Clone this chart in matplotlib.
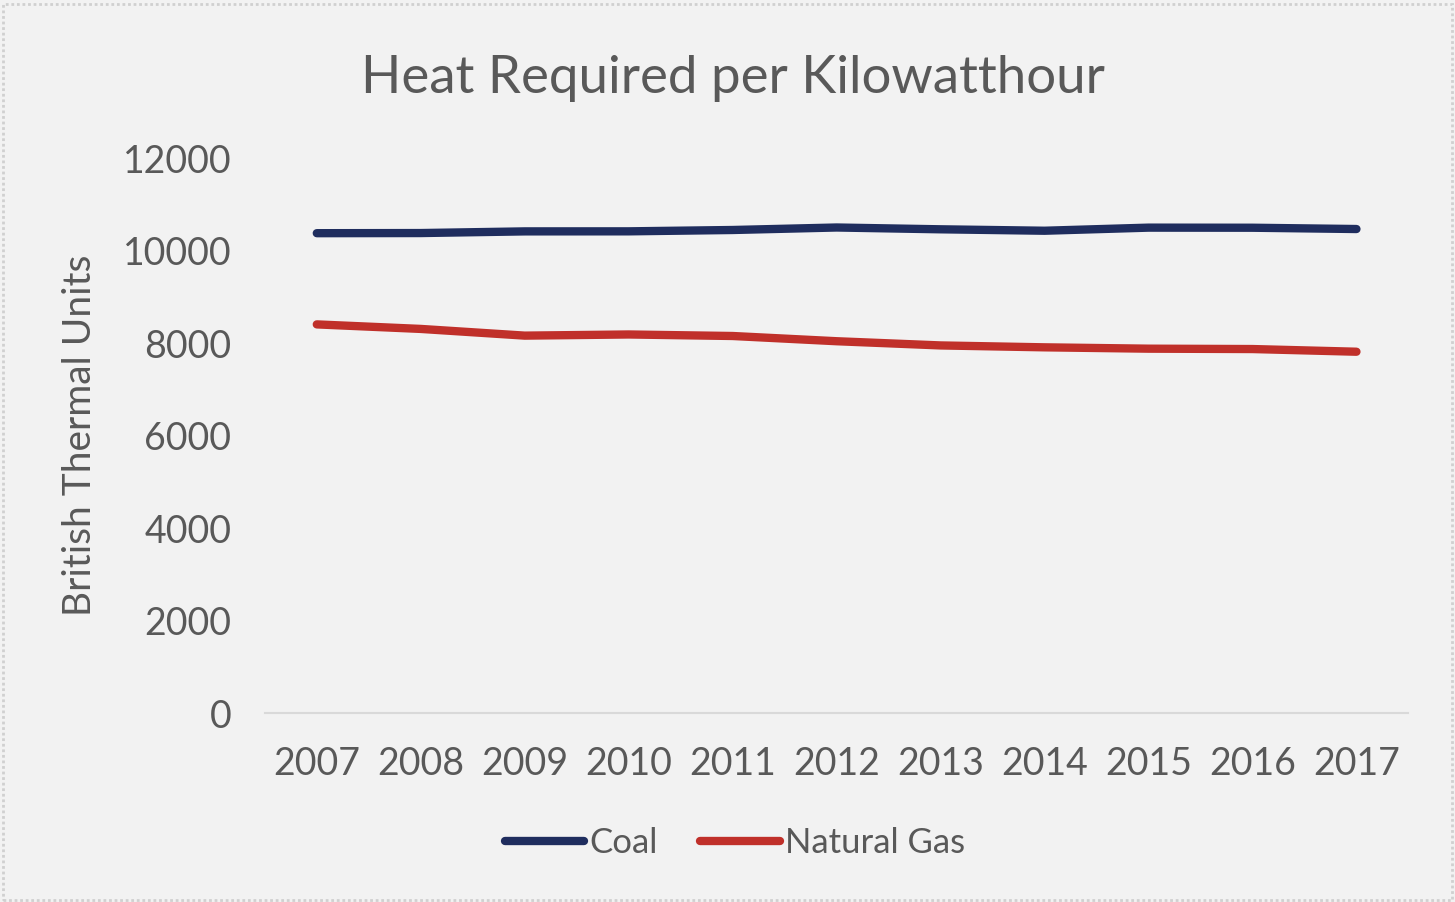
import matplotlib.pyplot as plt
from matplotlib.patches import Rectangle

years = ["2007", "2008", "2009", "2010", "2011", "2012", "2013", "2014", "2015", "2016", "2017"]
coal = [10375, 10378, 10414, 10415, 10444, 10498, 10459, 10428, 10495, 10493, 10465]
natural_gas = [8403, 8305, 8160, 8185, 8152, 8039, 7948, 7907, 7878, 7870, 7812]
yticks = [0, 2000, 4000, 6000, 8000, 10000, 12000]

plt.rcParams['font.family'] = ['Lato', 'DejaVu Sans']
txt = "#595959"
bg = "#f2f2f2"

fig = plt.figure(figsize=(14.55, 9.02), dpi=100, facecolor=bg)
fig.patches.append(Rectangle((0.002, 0.002), 0.996, 0.994, transform=fig.transFigure,
                             fill=False, edgecolor="#d0d0d0", lw=2, ls=(0, (1, 1))))
ax = fig.add_axes([0.182, 0.2095, 0.786, 0.6153], facecolor=bg)

x = range(len(years))
ax.plot(x, coal, color="#1f2d5e", lw=6, solid_capstyle="round", label="Coal")
ax.plot(x, natural_gas, color="#c0302a", lw=6, solid_capstyle="round", label="Natural Gas")

ax.set_xlim(-0.5, len(years) - 0.5)
ax.set_ylim(0, 12000)
ax.set_yticks(yticks)
ax.set_yticklabels([str(v) for v in yticks])
ax.set_xticks(list(x))
ax.set_xticklabels(years)
ax.tick_params(length=0, labelsize=27, labelcolor=txt)
ax.tick_params(axis="y", pad=24)
ax.tick_params(axis="x", pad=24)
for s in ["top", "right", "left"]:
    ax.spines[s].set_visible(False)
ax.spines["bottom"].set_color("#d9d9d9")
ax.spines["bottom"].set_linewidth(1.5)

ax.set_ylabel("British Thermal Units", fontsize=28, color=txt, labelpad=18)
fig.text(0.504, 0.913, "Heat Required per Kilowatthour", ha="center", va="center",
         fontsize=38, color=txt)

leg = fig.legend(loc="center", bbox_to_anchor=(0.505, 0.065), ncol=2, frameon=False,
                 fontsize=25, handlelength=2.3, handletextpad=0.15, columnspacing=1.2)
for t in leg.get_texts():
    t.set_color(txt)

fig.savefig("out.png", dpi=100, facecolor=bg)
